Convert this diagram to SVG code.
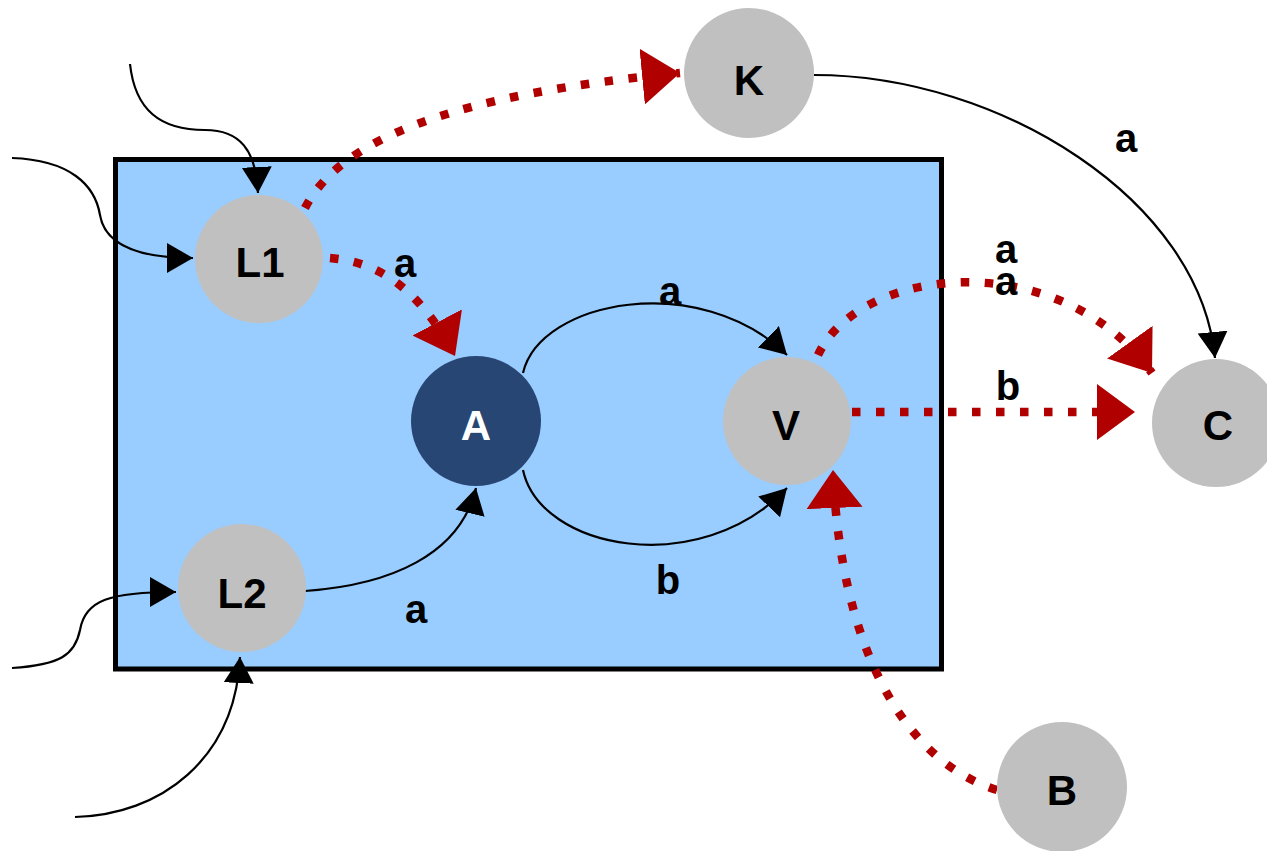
<svg xmlns="http://www.w3.org/2000/svg" width="1267" height="851" viewBox="0 0 1267 851">
<style>
.bg{fill:#ffffff}
.box{fill:#99ccff;stroke:#000000;stroke-width:5}
.node{fill:#c0c0c0}
.dark{fill:#284673}
.lbl{font-family:"Liberation Sans",Arial,sans-serif;font-weight:bold;font-size:42px;text-anchor:middle;fill:#000000}
.lblw{fill:#ffffff}
.elbl{font-family:"Liberation Sans",Arial,sans-serif;font-weight:bold;font-size:40px;text-anchor:middle;fill:#000000}
.blk{fill:none;stroke:#000000;stroke-width:2.2}
.red{fill:none;stroke:#b00000;stroke-width:8.5;stroke-dasharray:8.5 15.5}
</style>
<defs>
<marker id="ab" markerUnits="userSpaceOnUse" markerWidth="30" markerHeight="32" refX="26" refY="15" orient="auto" viewBox="0 0 30 32">
<path d="M0,0 L26,15 L0,30 Z" fill="#000000"/>
</marker>
<marker id="ar" markerUnits="userSpaceOnUse" markerWidth="42" markerHeight="60" refX="38" refY="28" orient="auto" viewBox="0 0 42 60">
<path d="M0,0 L38,28 L0,56 Z" fill="#b00000"/>
</marker>
</defs>
<rect class="bg" x="0" y="0" width="1267" height="851"/>
<rect class="box" x="115.5" y="159.5" width="826" height="509.5"/>
<g id="connectors">
<path class="blk" d="M130,64 C135,110 160,130 205,130 C240,130 256,150 258,193" marker-end="url(#ab)"/>
<path class="blk" d="M12,158 C70,160 95,185 100,215 C105,245 140,258 193,258" marker-end="url(#ab)"/>
<path class="blk" d="M12,668 C60,665 75,655 80,630 C85,600 110,592 176,592" marker-end="url(#ab)"/>
<path class="blk" d="M75,817 C160,815 235,760 240,657" marker-end="url(#ab)"/>
<path class="blk" d="M305,591 C390,585 460,555 476,488" marker-end="url(#ab)"/>
<path class="blk" d="M523,373 C540,300 700,270 787,355" marker-end="url(#ab)"/>
<path class="blk" d="M523,470 C540,550 700,580 787,488" marker-end="url(#ab)"/>
<path class="blk" d="M814,75 C1000,75 1200,200 1215,358" marker-end="url(#ab)"/>
<path class="red" d="M305,208 C340,140 450,95 680,73" marker-end="url(#ar)"/>
<path class="red" d="M330,258 C380,262 420,290 455,356" marker-end="url(#ar)"/>
<path class="red" d="M818,355 C860,265 1060,245 1152,373" marker-end="url(#ar)"/>
<path class="red" d="M852,412 L1135,412" marker-end="url(#ar)"/>
<path class="red" d="M997,790 C900,760 840,640 833,470" marker-end="url(#ar)"/>
<text class="elbl" x="405" y="277">a</text>
<text class="elbl" x="670" y="305">a</text>
<text class="elbl" x="668" y="594">b</text>
<text class="elbl" x="416" y="623">a</text>
<text class="elbl" x="1126" y="152">a</text>
<text class="elbl" x="1006" y="263">a</text>
<text class="elbl" x="1006" y="295">a</text>
<text class="elbl" x="1008" y="400">b</text>
</g>
<g id="L1"><circle class="node" cx="259" cy="259" r="64"/><text class="lbl" x="260" y="277">L1</text></g>
<g id="L2"><circle class="node" cx="242" cy="588" r="64"/><text class="lbl" x="242" y="608">L2</text></g>
<g id="A"><circle class="dark" cx="476" cy="421" r="65"/><text class="lbl lblw" x="476" y="440">A</text></g>
<g id="V"><circle class="node" cx="787" cy="421" r="64"/><text class="lbl" x="786" y="440">V</text></g>
<g id="K"><circle class="node" cx="749" cy="73" r="65"/><text class="lbl" x="749" y="95">K</text></g>
<g id="C"><circle class="node" cx="1216" cy="423" r="64"/><text class="lbl" x="1218" y="440">C</text></g>
<g id="B"><circle class="node" cx="1062" cy="787" r="65"/><text class="lbl" x="1062" y="805">B</text></g>
</svg>
